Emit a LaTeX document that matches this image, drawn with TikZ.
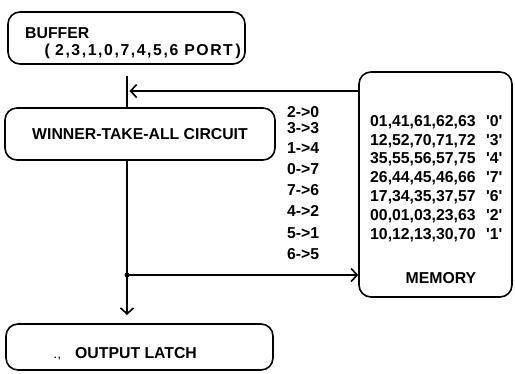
\documentclass[tikz,border=0pt]{standalone}
\usepackage{fontspec}
\setmainfont{Liberation Sans}
\usetikzlibrary{arrows.meta}
\begin{document}
\begin{tikzpicture}[x=1pt,y=-1pt,
  box/.style={draw, line width=1.6pt, rounded corners=12pt, inner sep=0pt},
  conn/.style={line width=1.6pt},
  arr/.style={conn, -{Straight Barb[length=6pt,width=13pt,line width=1.6pt]}},
  txt/.style={font=\bfseries\fontsize{15.8}{18}\selectfont, inner sep=0pt},
]
\useasboundingbox (0,0) rectangle (515,373);
% boxes
\node[box, minimum width=237pt, minimum height=52pt] (buf) at (126.5,38) {};
\node[box, minimum width=270pt, minimum height=52pt, txt] (wta) at (140,134) {WINNER-TAKE-ALL CIRCUIT};
\node[box, minimum width=267pt, minimum height=46pt] (out) at (139.5,347) {};
\node[box, minimum width=153pt, minimum height=225pt] (mem) at (435.5,184.5) {};
% buffer text
\node[txt, anchor=base west] (bt1) at (25,38) {BUFFER};
\node[txt, anchor=base east] (bt2) at (241,55.5) {\addfontfeatures{LetterSpace=10}(\,\,2,3,1,0,7,4,5,6 PORT\,)};
% output text
\node[txt, anchor=base west, font=\bfseries\fontsize{9}{10}\selectfont] (odots) at (54,358.5) {.\,,};
\node[txt, anchor=base west] (ot) at (75,358.5) {OUTPUT LATCH};
% connectors
\coordinate (bufout) at (127,76);
\coordinate (fb) at (129.5,91);
\coordinate (junc) at (127,275);
\coordinate (downend) at (127,315);
\draw[conn] (bufout) -- (bufout |- wta.north);
\draw[arr] (mem.west |- fb) -- (fb);
\draw[conn] (junc |- wta.south) -- (junc);
\draw[arr] (junc) -- (downend);
\draw[arr] (junc) -- (mem.west |- junc);
\fill (junc) circle (2.5pt);
% mapping labels
\foreach \t/\y [count=\i] in {2->0/117.5, 3->3/133.5, 1->4/153.5, 0->7/174.5, 7->6/195.5, 4->2/216.5, 5->1/238.5, 6->5/259.5}
  \node[txt, anchor=base west] (map\i) at (287,\y) {\t};
% memory rows
\foreach \t/\q/\y [count=\i] in {{01,41,61,62,63}/0/126.5, {12,52,70,71,72}/3/145, {35,55,56,57,75}/4/163.5, {26,44,45,46,66}/7/182.5, {17,34,35,37,57}/6/201.5, {00,01,03,23,63}/2/220.5, {10,12,13,30,70}/1/239.5}
{
  \node[txt, anchor=base west] (row\i) at (370,\y) {\t};
  \node[txt, anchor=base west] (lab\i) at (486,\y) {\textquotesingle\q\textquotesingle};
}
\node[txt, anchor=base] (memt) at (441,283.5) {MEMORY};
\end{tikzpicture}
\end{document}
